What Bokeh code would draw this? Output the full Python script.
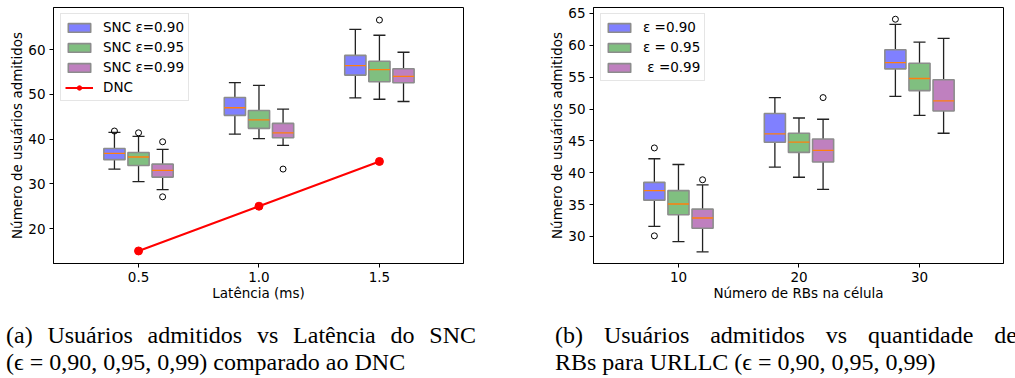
from bokeh.plotting import figure
from bokeh.models import Legend, LegendItem, Div, FixedTicker, PrintfTickFormatter, Range1d
from bokeh.layouts import column, row
from bokeh.embed import file_html
from bokeh.resources import INLINE

# ---------------- data (a) ----------------
latencia = [0.5, 1.0, 1.5]
# five-number summaries: [whisker_low, q1, median, q3, whisker_high]
snc_090 = [[33.3, 35.4, 36.8, 37.9, 41.5], [41.1, 45.3, 47.0, 49.3, 52.6], [49.2, 54.3, 56.4, 58.7, 64.5]]
snc_095 = [[30.5, 34.1, 36.0, 37.0, 40.6], [40.1, 42.4, 44.3, 46.4, 52.0], [48.9, 52.8, 55.5, 57.4, 63.2]]
snc_099 = [[28.7, 31.5, 33.0, 34.4, 37.7], [38.6, 40.3, 41.4, 43.5, 46.7], [48.4, 52.6, 54.0, 55.7, 59.4]]
snc_090_out = [[41.8], [], []]
snc_095_out = [[41.4], [], [66.6]]
snc_099_out = [[39.4, 27.1], [33.3], []]
dnc = [15, 25, 35]
labels_a = ["SNC ε=0.90", "SNC ε=0.95", "SNC ε=0.99", "DNC"]

# ---------------- data (b) ----------------
rbs = [10, 20, 30]
eps_090 = [[31.6, 35.7, 37.2, 38.5, 42.2], [40.9, 44.8, 46.1, 49.3, 51.8], [52.0, 56.3, 57.3, 59.3, 63.3]]
eps_095 = [[29.2, 33.4, 35.1, 37.2, 41.3], [39.3, 43.2, 44.8, 46.2, 48.6], [49.0, 52.9, 54.8, 57.2, 60.5]]
eps_099 = [[27.6, 31.3, 32.9, 34.3, 38.1], [37.4, 41.7, 43.5, 45.3, 48.4], [46.2, 49.7, 51.3, 54.6, 61.1]]
eps_090_out = [[43.9, 30.1], [], [64.1]]
eps_095_out = [[], [], []]
eps_099_out = [[38.9], [51.8], []]
labels_b = ["ε =0.90", "ε = 0.95", " ε =0.99"]

FONT = "DejaVu Sans"
FSIZE = "13.5px"
COLORS = ["#8080ff", "#80bf80", "#bf80bf"]
FIG_H = 312
B_TOP = 7
B_BOT = 49
FRAME_H = FIG_H - B_TOP - B_BOT  # 256


def make_fig(width, left, right, xr, yr, xticks, yticks, xlabel, ylabel, xfmt):
    p = figure(width=width, height=FIG_H, output_backend="svg", toolbar_location=None,
               title=None, x_range=Range1d(*xr), y_range=Range1d(*yr),
               min_border_left=left, min_border_right=right,
               min_border_top=B_TOP, min_border_bottom=B_BOT)
    p.grid.visible = False
    p.outline_line_color = "black"
    p.outline_line_width = 1
    p.background_fill_color = "white"
    p.border_fill_color = "white"
    for ax, ticks in ((p.xaxis[0], xticks), (p.yaxis[0], yticks)):
        ax.ticker = FixedTicker(ticks=ticks)
        ax.minor_tick_line_color = None
        ax.major_tick_in = 0
        ax.major_tick_out = 4
        ax.major_tick_line_color = "black"
        ax.axis_line_color = "black"
        ax.major_label_text_font = FONT
        ax.major_label_text_font_size = FSIZE
        ax.major_label_text_color = "black"
        ax.axis_label_text_font = FONT
        ax.axis_label_text_font_size = FSIZE
        ax.axis_label_text_font_style = "normal"
        ax.axis_label_text_color = "black"
    p.xaxis[0].axis_label = xlabel
    p.yaxis[0].axis_label = ylabel
    p.xaxis[0].major_label_standoff = 4
    p.xaxis[0].axis_label_standoff = 0
    p.yaxis[0].major_label_standoff = 4
    p.yaxis[0].axis_label_standoff = 0
    if xfmt:
        p.xaxis[0].formatter = PrintfTickFormatter(format=xfmt)
    return p


def draw_boxes(p, xs, stats, outs, offset, width, capw, color):
    x = [xi + offset for xi in xs]
    low = [s[0] for s in stats]
    q1 = [s[1] for s in stats]
    med = [s[2] for s in stats]
    q3 = [s[3] for s in stats]
    high = [s[4] for s in stats]
    wc = "#222222"
    p.segment(x, q3, x, high, line_color=wc, line_width=1.3)
    p.segment(x, low, x, q1, line_color=wc, line_width=1.3)
    p.segment([v - capw / 2 for v in x], high, [v + capw / 2 for v in x], high, line_color=wc, line_width=1.3)
    p.segment([v - capw / 2 for v in x], low, [v + capw / 2 for v in x], low, line_color=wc, line_width=1.3)
    r = p.vbar(x=x, width=width, bottom=q1, top=q3, fill_color=color,
               line_color="#8c8c8c", line_width=1.6)
    p.segment([v - width / 2 for v in x], med, [v + width / 2 for v in x], med,
              line_color="#ff7f0e", line_width=1.3)
    ox, oy = [], []
    for xi, o in zip(x, outs):
        for v in o:
            ox.append(xi)
            oy.append(v)
    if ox:
        p.scatter(ox, oy, marker="circle", size=6, fill_color=None, line_color="black", line_width=1)
    return r


def style_legend(lg, n_items):
    pad, item_h, spc = 4, 18, 2
    height = 2 * pad + n_items * item_h + (n_items - 1) * spc
    lg.location = (7, FRAME_H - 8 - height)
    lg.margin = 0
    lg.padding = pad
    lg.spacing = spc
    lg.glyph_width = 28
    lg.glyph_height = 11
    lg.label_height = item_h
    lg.label_standoff = 10
    lg.label_text_font = FONT
    lg.label_text_font_size = FSIZE
    lg.label_text_color = "black"
    lg.border_line_color = "#cccccc"
    lg.border_line_width = 1
    lg.background_fill_alpha = 0.85


# ---------------- figure (a) ----------------
p1 = make_fig(510, 53, 47, (0.147, 1.849), (12.2, 69.4), latencia, [20, 30, 40, 50, 60],
              "Latência (ms)", "Número de usuários admitidos", "%.1f")
ra = []
for stats, outs, off, col in ((snc_090, snc_090_out, -0.1, COLORS[0]),
                              (snc_095, snc_095_out, 0.0, COLORS[1]),
                              (snc_099, snc_099_out, 0.1, COLORS[2])):
    ra.append(draw_boxes(p1, latencia, stats, outs, off, 0.088, 0.05, col))
l_line = p1.line(latencia, dnc, line_color="red", line_width=2)
l_pts = p1.scatter(latencia, dnc, marker="circle", size=8, fill_color="red", line_color="red")
leg1 = Legend(items=[LegendItem(label=labels_a[0], renderers=[ra[0]]),
                     LegendItem(label=labels_a[1], renderers=[ra[1]]),
                     LegendItem(label=labels_a[2], renderers=[ra[2]]),
                     LegendItem(label=labels_a[3], renderers=[l_line, l_pts])])
style_legend(leg1, 4)
p1.add_layout(leg1)

# ---------------- figure (b) ----------------
p2 = make_fig(497, 83, 4, (2.95, 36.97), (25.76, 65.94), rbs, [30, 35, 40, 45, 50, 55, 60, 65],
              "Número de RBs na célula", "Número de usuários admitidos", None)
rb_r = []
for stats, outs, off, col in ((eps_090, eps_090_out, -2.0, COLORS[0]),
                              (eps_095, eps_095_out, 0.0, COLORS[1]),
                              (eps_099, eps_099_out, 2.0, COLORS[2])):
    rb_r.append(draw_boxes(p2, rbs, stats, outs, off, 1.75, 1.0, col))
leg2 = Legend(items=[LegendItem(label=labels_b[i], renderers=[rb_r[i]]) for i in range(3)])
style_legend(leg2, 3)
p2.add_layout(leg2)

# ---------------- captions ----------------
CAP_H = 378 - FIG_H
SERIF = ("font-family:'Liberation Serif','Times New Roman',serif; font-size:24px; "
         "line-height:27px; color:black;")
BOX = f"height:{CAP_H}px; overflow:hidden; box-sizing:border-box; padding-top:5px;"
JUST = "text-align:justify; text-align-last:justify;"
cap_a = Div(width=510, height=CAP_H, text=(
    f'<div style="{BOX}"><div style="{SERIF} width:470px; margin-left:1px;">'
    f'<div style="{JUST}">(a) Usuários admitidos vs Latência do SNC</div>'
    '<div style="white-space:nowrap;">(ϵ = 0,90, 0,95, 0,99) comparado ao DNC</div>'
    '</div></div>'))
cap_b = Div(width=497, height=CAP_H, text=(
    f'<div style="{BOX}"><div style="{SERIF} width:462px; margin-left:30px;">'
    f'<div style="{JUST}">(b) Usuários admitidos vs quantidade de</div>'
    '<div style="white-space:nowrap;">RBs para URLLC (ϵ = 0,90, 0,95, 0,99)</div>'
    '</div></div>'))

layout = column(row(p1, p2), row(cap_a, cap_b))
open("out.html", "w").write(file_html(layout, INLINE))
